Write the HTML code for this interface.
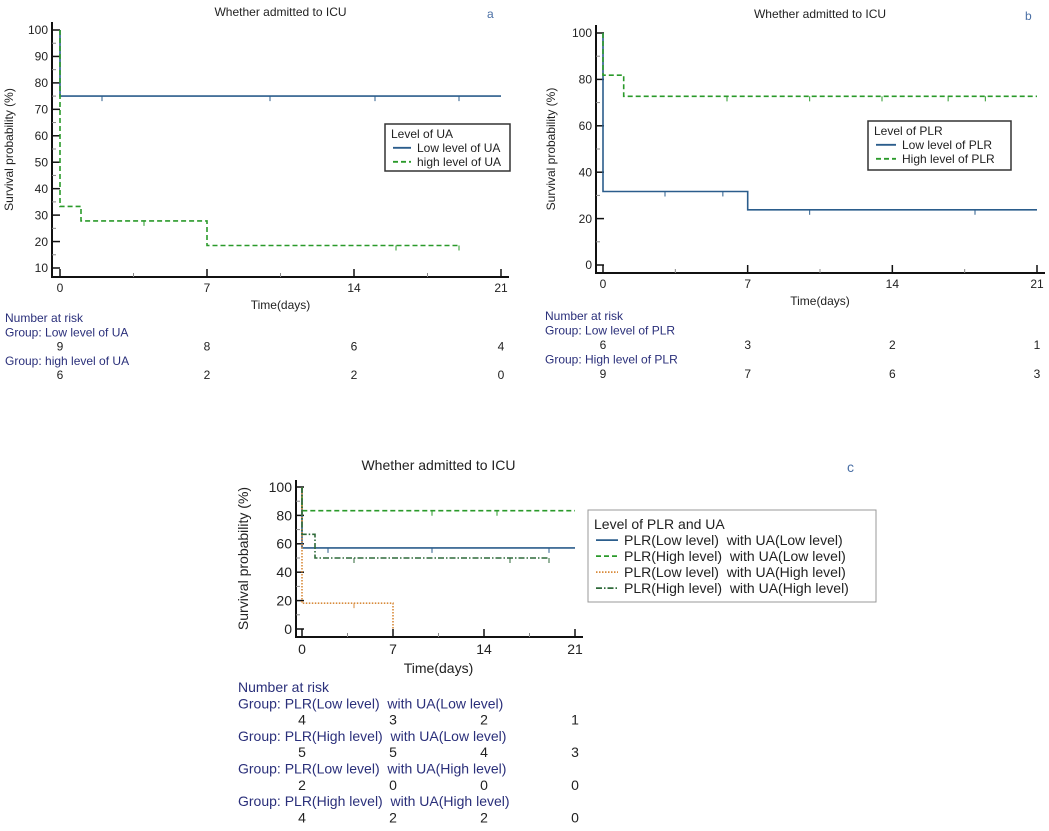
<!DOCTYPE html>
<html><head><meta charset="utf-8"><style>
body{margin:0;background:#fff;}
svg{display:block;font-family:"Liberation Sans",Arial,sans-serif;}
text{white-space:pre;}
</style></head><body>
<svg id="s" width="1049" height="831" viewBox="0 0 1049 831" xmlns="http://www.w3.org/2000/svg"></svg>
<script>
const xTicks = [0, 7, 14, 21];
// Panel a
const aYTicks = [10,20,30,40,50,60,70,80,90,100];
const aLowT = [0, 0, 21];       const aLowS = [100, 75, 75];
const aHighT = [0, 0, 1, 1, 7, 7, 19];  const aHighS = [100, 33.3, 33.3, 27.8, 27.8, 18.5, 18.5];
const aLowCens = [2, 10, 15, 19];  const aHighCens = [4, 16, 19];
const aRiskLow = [9, 8, 6, 4];  const aRiskHigh = [6, 2, 2, 0];
// Panel b
const bYTicks = [0,20,40,60,80,100];
const bLowT = [0, 0, 7, 7, 21];  const bLowS = [100, 31.7, 31.7, 23.8, 23.8];
const bHighT = [0, 0, 1, 1, 21]; const bHighS = [100, 81.8, 81.8, 72.7, 72.7];
const bLowCens = [3, 5.8, 10, 18];  const bHighCens = [6, 10, 13.5, 16.7, 18.5];
const bRiskLow = [6, 3, 2, 1];  const bRiskHigh = [9, 7, 6, 3];
// Panel c
const cYTicks = [0,20,40,60,80,100];
const cLLT = [0, 0, 21];  const cLLS = [100, 57.1, 57.1];
const cHLT = [0, 0, 21];  const cHLS = [100, 83.3, 83.3];
const cLHT = [0, 0, 7, 7]; const cLHS = [100, 18.2, 18.2, 0];
const cHHT = [0, 0, 1, 1, 19]; const cHHS = [100, 66.7, 66.7, 50, 50];
const cLLCens = [2, 10, 19]; const cHLCens = [10, 15]; const cLHCens = [4]; const cHHCens = [4, 16, 19];
const cRisk1 = [4,3,2,1]; const cRisk2 = [5,5,4,3]; const cRisk3 = [2,0,0,0]; const cRisk4 = [4,2,2,0];

const NS = "http://www.w3.org/2000/svg";
const svg = document.getElementById('s');
function mk(tag, attrs, parent, text){
  const e = document.createElementNS(NS, tag);
  for (const k in attrs) e.setAttribute(k, attrs[k]);
  if (text !== undefined) e.textContent = text;
  (parent||svg).appendChild(e); return e;
}
function panel(cfg){
  const g = mk('g', {});
  
  
  const X = t => cfg.x0 + (cfg.x1 - cfg.x0) * t / 21;
  const Y = v => cfg.y0 + (cfg.y1 - cfg.y0) * (v - cfg.ymin) / (cfg.ymax - cfg.ymin);
  const fs = cfg.fs;
  const t1 = mk('text', {x: (cfg.x0+cfg.x1)/2, y: cfg.titleY, 'font-size': fs, 'text-anchor':'middle', fill:'#222'}, g, 'Whether admitted to ICU');
   
  const lt = mk('text', {x: cfg.letterX, y: cfg.titleY+2, 'font-size': fs, fill:'#4a6fa5'}, g, cfg.letter);
   
  const ax = mk('path', {d:`M${cfg.axX} ${cfg.axTop} V${cfg.axBot} H${cfg.x1+8}`, stroke:'#111', 'stroke-width':2, fill:'none'}, g);
   
  cfg.yTicks.forEach(v=>{
    mk('line',{x1:cfg.axX,x2:cfg.axX+8,y1:Y(v),y2:Y(v),stroke:'#111','stroke-width':1.5},g);
    const tx = mk('text',{x:cfg.axX-4,y:Y(v)+fs*0.35,'font-size':fs,'text-anchor':'end',fill:'#222'},g,String(v));
     
  });
  for (let i=0;i<cfg.yTicks.length-1;i++){
    const m=(cfg.yTicks[i]+cfg.yTicks[i+1])/2;
    mk('line',{x1:cfg.axX,x2:cfg.axX+4,y1:Y(m),y2:Y(m),stroke:'#888','stroke-width':1},g);
  }
  xTicks.forEach(t=>{
    mk('line',{x1:X(t),x2:X(t),y1:cfg.axBot,y2:cfg.axBot-8,stroke:'#111','stroke-width':1.5},g);
    const tx = mk('text',{x:X(t),y:cfg.axBot+fs+3,'font-size':fs,'text-anchor':'middle',fill:'#222'},g,String(t));
     
  });
  [3.5,10.5,17.5].forEach(t=>mk('line',{x1:X(t),x2:X(t),y1:cfg.axBot,y2:cfg.axBot-4,stroke:'#888'},g));
  const xl = mk('text',{x:(cfg.x0+cfg.x1)/2,y:cfg.axBot+2*fs+8,'font-size':fs,'text-anchor':'middle',fill:'#222'},g,'Time(days)');
   
  const yx = cfg.yTitleX, yy=(cfg.axTop+cfg.axBot)/2;
  const yl = mk('text',{x:yx,y:yy,'font-size':fs,'text-anchor':'middle',fill:'#222',transform:`rotate(-90 ${yx} ${yy})`},g,'Survival probability (%)');
   
  cfg.series.forEach(s=>{
    let d='';
    s.t.forEach((t,i)=>{ d += (i?'L':'M')+X(t).toFixed(1)+' '+Y(s.v[i]).toFixed(1)+' '; });
    const p = mk('path',{d, stroke:s.color,'stroke-width':s.w||1.6,fill:'none','stroke-dasharray':s.dash||'none'},g);
    
    
    s.cens.forEach(c=>{
      let val = s.v[0];
      s.t.forEach((t,i)=>{ if (t<=c) val=s.v[i]; });
      const ln = mk('line',{x1:X(c),x2:X(c),y1:Y(val),y2:Y(val)+5,stroke:s.color,'stroke-width':1},g);
       
    });
  });
  const L = cfg.legend;
  const lg = mk('g',{},g);
   
  mk('rect',{x:L.x,y:L.y,width:L.w,height:L.h,fill:'#fff',stroke:L.stroke||'#333','stroke-width':L.sw||1.5},lg);
  mk('text',{x:L.x+6,y:L.y+L.t,'font-size':L.fs,fill:'#222'},lg,L.title);
  cfg.series.forEach((s,i)=>{
    const yy = L.y+L.t+L.lh*(i+1);
    mk('line',{x1:L.x+8,x2:L.x+8+L.sl,y1:yy-L.fs*0.35,y2:yy-L.fs*0.35,stroke:s.color,'stroke-width':1.8,'stroke-dasharray':s.dash||'none'},lg);
    const tx = mk('text',{x:L.x+14+L.sl,y:yy,'font-size':L.fs,fill:'#222'},lg,s.label);
     
  });
  const R = cfg.risk;
  const rg = mk('g',{},g);
   
  mk('text',{x:R.x,y:R.y,'font-size':R.fs,fill:'#2a2f7a'},rg,'Number at risk');
  R.groups.forEach((gr,i)=>{
    const yy = R.y + R.step*(2*i+1);
    mk('text',{x:R.x,y:yy,'font-size':R.fs,fill:'#2a2f7a'},rg,'Group: '+gr.label);
    gr.vals.forEach((v,j)=>{
      const tx = mk('text',{x:X(xTicks[j]),y:yy+R.step,'font-size':R.fs,'text-anchor':'middle',fill:'#222'},rg,String(v));
       
    });
  });
}
const BLUE='#2b5d8c', GREEN='#2a9a2a', ORANGE='#d88a3a', DKG='#2f6a3a';
panel({name:'panel-a',letter:'a',letterX:487,titleY:16,fs:12,x0:60,x1:501,ymin:10,ymax:100,y0:268,y1:30,
  axX:52,axTop:22,axBot:277,yTitleX:13,yTicks:aYTicks,
  series:[{name:'low-ua-curve',label:'Low level of UA',t:aLowT,v:aLowS,cens:aLowCens,color:BLUE},
          {name:'high-ua-curve',label:'high level of UA',t:aHighT,v:aHighS,cens:aHighCens,color:GREEN,dash:'5,3'}],
  legend:{x:385,y:124,w:125,h:47,fs:12,t:14,lh:14,sl:18,title:'Level of UA'},
  risk:{x:5,y:322,fs:12,step:14.3,groups:[{label:'Low level of UA',vals:aRiskLow},{label:'high level of UA',vals:aRiskHigh}]}});
panel({name:'panel-b',letter:'b',letterX:1025,titleY:18,fs:12,x0:603,x1:1037,ymin:0,ymax:100,y0:265,y1:33,
  axX:596,axTop:25,axBot:273,yTitleX:555,yTicks:bYTicks,
  series:[{name:'low-plr-curve',label:'Low level of PLR',t:bLowT,v:bLowS,cens:bLowCens,color:BLUE},
          {name:'high-plr-curve',label:'High level of PLR',t:bHighT,v:bHighS,cens:bHighCens,color:GREEN,dash:'5,3'}],
  legend:{x:868,y:121,w:143,h:49,fs:12,t:14,lh:14,sl:20,title:'Level of PLR'},
  risk:{x:545,y:320,fs:12,step:14.5,groups:[{label:'Low level of PLR',vals:bRiskLow},{label:'High level of PLR',vals:bRiskHigh}]}});
panel({name:'panel-c',letter:'c',letterX:847,titleY:470,fs:14,x0:302,x1:575,ymin:0,ymax:100,y0:629,y1:487,
  axX:296,axTop:480,axBot:637,yTitleX:248,yTicks:cYTicks,
  series:[{name:'plr-low-ua-low-curve',label:'PLR(Low level)  with UA(Low level)',t:cLLT,v:cLLS,cens:cLLCens,color:BLUE},
          {name:'plr-high-ua-low-curve',label:'PLR(High level)  with UA(Low level)',t:cHLT,v:cHLS,cens:cHLCens,color:GREEN,dash:'5,3'},
          {name:'plr-low-ua-high-curve',label:'PLR(Low level)  with UA(High level)',t:cLHT,v:cLHS,cens:cLHCens,color:ORANGE,dash:'1.5,1.5'},
          {name:'plr-high-ua-high-curve',label:'PLR(High level)  with UA(High level)',t:cHHT,v:cHHS,cens:cHHCens,color:DKG,dash:'6,2,1.5,2'}],
  legend:{x:588,y:510,w:288,h:92,fs:14,t:19,lh:16,sl:22,title:'Level of PLR and UA',stroke:'#999',sw:1},
  risk:{x:238,y:692,fs:14,step:16.3,groups:[{label:'PLR(Low level)  with UA(Low level)',vals:cRisk1},{label:'PLR(High level)  with UA(Low level)',vals:cRisk2},{label:'PLR(Low level)  with UA(High level)',vals:cRisk3},{label:'PLR(High level)  with UA(High level)',vals:cRisk4}]}});
</script>
</body></html>
